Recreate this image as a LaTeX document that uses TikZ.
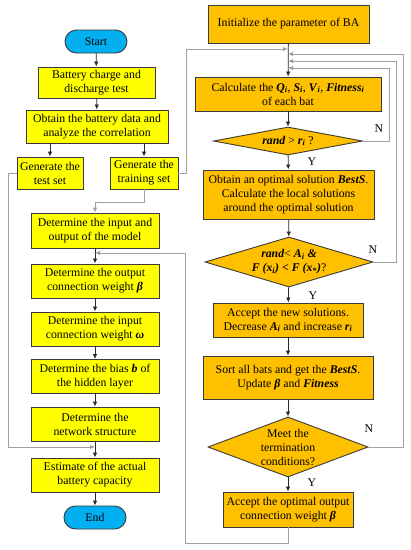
\documentclass[tikz,border=0pt]{standalone}
\usepackage{fontspec}
\setmainfont{Liberation Serif}
\usetikzlibrary{shapes.geometric,arrows.meta,calc}
\definecolor{ylw}{HTML}{FFFF00}
\definecolor{org}{HTML}{FFC000}
\definecolor{cyn}{HTML}{00B0F0}
\definecolor{bordc}{HTML}{3A3A3A}
\definecolor{darkc}{HTML}{2A2A2A}
\definecolor{grayc}{HTML}{A0A0A0}
\newcommand{\bxi}[1]{\textbf{\textit{#1}}}
\newcommand{\sbi}[1]{\textsubscript{\bxi{#1}}}
\newcommand{\fs}{\fontsize{11.8}{14}\selectfont}
\tikzset{
 box/.style={draw=bordc, line width=0.9pt, align=center, inner sep=1pt, font=\fs},
 ybox/.style={box, fill=ylw},
 obox/.style={box, fill=org},
 term/.style={box, fill=cyn, rounded corners=11.5pt},
 dia/.style={diamond, draw=bordc, fill=org, inner sep=0pt, line width=0.9pt},
 dlab/.style={align=center, font=\fs},
 arr/.style={-{Latex[length=5pt,width=4.5pt]}, line width=0.8pt, draw=darkc},
 garr/.style={-{Latex[length=5pt,width=4.5pt]}, line width=0.8pt, draw=grayc},
 yn/.style={font=\fs, inner sep=0pt},
}
\begin{document}
\begin{tikzpicture}[x=1pt,y=-1pt]
\useasboundingbox (0,0) rectangle (411,550);
% left column
\node[term, minimum width=62pt, minimum height=23pt] (start) at (96,41.5) {Start};
\node[ybox, minimum width=117pt, minimum height=31pt] (bcd) at (96.5,82.5) {Battery charge and\\discharge test};
\node[ybox, minimum width=142pt, minimum height=33pt] (obt) at (97,126.5) {Obtain the battery data and\\analyze the correlation};
\node[ybox, minimum width=66pt, minimum height=32pt] (test) at (50,173) {Generate the\\test set};
\node[ybox, minimum width=68pt, minimum height=32pt] (train) at (144,173) {Generate the\\training set};
\node[ybox, minimum width=128pt, minimum height=35pt] (dio) at (95,230.5) {Determine the input and\\output of the model};
\node[ybox, minimum width=128pt, minimum height=34pt] (ow) at (95,281) {Determine the output\\connection weight \bxi{β}};
\node[ybox, minimum width=128pt, minimum height=34pt] (iw) at (95,329) {Determine the input\\connection weight \bxi{ω}};
\node[ybox, minimum width=128pt, minimum height=34pt] (bias) at (95,376.5) {Determine the bias \bxi{b} of\\the hidden layer};
\node[ybox, minimum width=128pt, minimum height=34pt] (net) at (95,424) {Determine the\\network structure};
\node[ybox, minimum width=128pt, minimum height=34pt] (est) at (95,475) {Estimate of the actual\\battery capacity};
\node[term, minimum width=62pt, minimum height=23pt] (end) at (95,517.5) {End};
% right column
\node[obox, minimum width=161pt, minimum height=38pt] (init) at (288.5,24) {Initialize the parameter of BA};
\node[obox, minimum width=186pt, minimum height=34pt] (calc) at (288,94) {Calculate the \bxi{Q}\sbi{i}, \bxi{S}\sbi{i}, \bxi{V}\sbi{i}, \bxi{Fitness}\sbi{i}\\of each bat};
\node[dia, minimum width=149pt, minimum height=28pt] (d1) at (288,141) {};
\node[dlab] (d1t) at (d1) {\bxi{rand} > \bxi{r}\sbi{i} ?};
\node[obox, minimum width=171pt, minimum height=49pt] (opt) at (288.5,194.5) {Obtain an optimal solution \bxi{BestS}.\\Calculate the local solutions\\around the optimal solution};
\node[dia, minimum width=168pt, minimum height=50pt] (d2) at (289,262) {};
\node[dlab] (d2t) at (d2) {\bxi{rand}< \bxi{A}\sbi{i} \bxi{\&}\\\bxi{F (x}\sbi{i}\bxi{) < F (x}\sbi{*}\bxi{)}?};
\node[obox, minimum width=150pt, minimum height=34pt] (acc) at (288,320) {Accept the new solutions.\\Decrease \bxi{A}\sbi{i} and increase \bxi{r}\sbi{i}};
\node[obox, minimum width=170pt, minimum height=43pt] (sort) at (288,377.5) {Sort all bats and get the \bxi{BestS}.\\Update \bxi{β} and \bxi{Fitness}};
\node[dia, minimum width=160pt, minimum height=60pt] (d3) at (288,447) {};
\node[dlab] (d3t) at (d3) {Meet the\\termination\\conditions?};
\node[obox, minimum width=130pt, minimum height=35pt] (aopt) at (288,509.5) {Accept the optimal output\\connection weight \bxi{β}};
% Y / N labels
\node[yn] (n1) at (379,129) {N};
\node[yn] (y1) at (312,162) {Y};
\node[yn] (n2) at (373,250) {N};
\node[yn] (y2) at (313,296) {Y};
\node[yn] (n3) at (369,429) {N};
\node[yn] (y3) at (312,483) {Y};
% coordinates
\coordinate (c1) at (144,202);
\coordinate (tl) at (8,447);
\coordinate (tr) at (186,49);
\coordinate (k1) at (389,68);
\coordinate (k2) at (396,61);
\coordinate (k3) at (403,54);
\coordinate (b1) at (185,543);
\coordinate (b2) at (185,253);
% left connectors
\draw[arr] (start) -- (bcd);
\draw[arr] (bcd) -- (obt);
\draw[arr] (obt.south -| test.north) -- (test.north);
\draw[arr] (obt.south -| train.north) -- (train.north);
\draw[garr] (train.south) -- (c1) -| (dio.north);
\draw[arr] (dio) -- (ow);
\draw[arr] (ow) -- (iw);
\draw[arr] (iw) -- (bias);
\draw[arr] (bias) -- (net);
\draw[arr] (net) -- (est);
\draw[arr] (est) -- (end);
\draw[garr] (test.west) -| (tl) -- (tl -| net.south);
\draw[garr] (train.east) -| (tr) -- (tr -| calc.north);
% right connectors
\draw[arr] (init) -- (calc);
\draw[arr] (calc) -- (d1);
\draw[arr] (d1) -- (opt);
\draw[arr] (opt) -- (d2);
\draw[arr] (d2) -- (acc);
\draw[arr] (acc) -- (sort);
\draw[arr] (sort) -- (d3);
\draw[arr] (d3) -- (aopt);
\draw[garr] (d1.east) -| (k1) -- (k1 -| calc.north);
\draw[garr] (d2.east) -| (k2) -- (k2 -| calc.north);
\draw[garr] (d3.east) -| (k3) -- (k3 -| calc.north);
\draw[garr] (aopt.south) |- (b1) -- (b2) -- (b2 -| dio.south);
\end{tikzpicture}
\end{document}
